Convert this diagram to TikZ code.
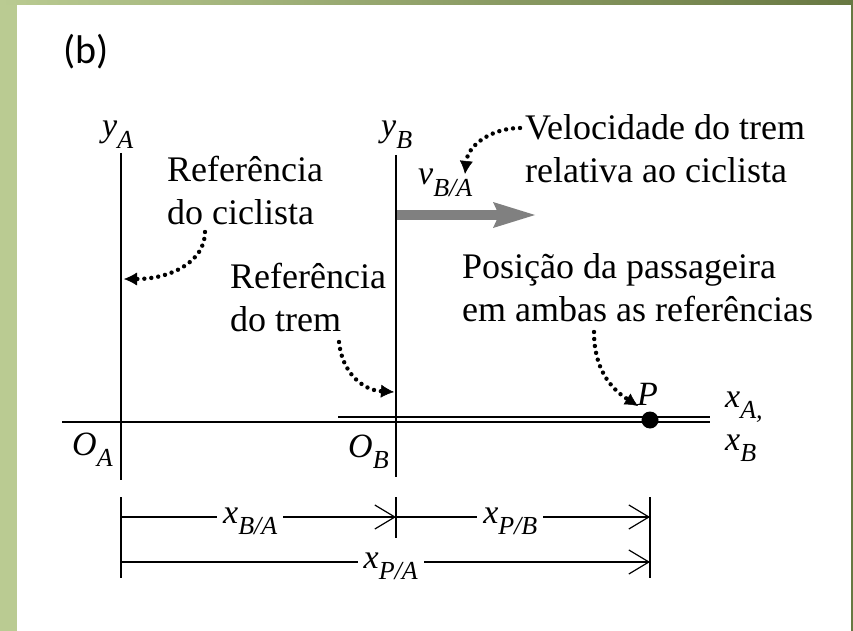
\documentclass[tikz,border=0pt]{standalone}
\usepackage{fontspec}
\setmainfont{Liberation Serif}
\newfontfamily\calibfont{Carlito}
\usetikzlibrary{arrows.meta}
\definecolor{bandlight}{RGB}{186,203,146}
\definecolor{banddark}{RGB}{104,120,66}
\definecolor{vecgray}{RGB}{128,128,128}
\newcommand{\axlbl}[2]{\textit{#1}\raisebox{-0.33em}{\fontsize{26}{26}\selectfont\textit{#2}}}
\tikzset{
  axis/.style={line width=1.4pt},
  dimline/.style={line width=1.2pt},
  dimarrow/.style={dimline,-{Straight Barb[length=20pt,width=24pt]}},
  pointer/.style={line width=4.4pt,dash pattern=on 0pt off 7pt,line cap=round,
    -{Latex[length=13pt,width=13pt,line width=0.5pt]}},
  caption/.style={font=\fontsize{36}{43}\selectfont,align=left,inner sep=0pt,anchor=north west},
  symlbl/.style={font=\fontsize{34}{34}\selectfont,inner sep=0pt,anchor=base west},
  dimlbl/.style={font=\fontsize{34}{34}\selectfont,fill=white,inner xsep=6pt,inner ysep=0pt,anchor=base,yshift=-6pt},
}
\begin{document}
\begin{tikzpicture}[x=1pt,y=-1pt,line cap=butt]
  \useasboundingbox (0,0) rectangle (853,631);
  \fill[white] (0,0) rectangle (853,631);
  \fill[bandlight] (0,0) rectangle (17,631);
  \shade[left color=bandlight,right color=banddark] (0,0) rectangle (853,5);
  \fill[banddark] (851,0) rectangle (853,631);

  \node[font=\calibfont\fontsize{40}{40}\selectfont,inner sep=0pt] (tag) at (86,52) {(b)};

  \coordinate (OA) at (121,422);
  \coordinate (OB) at (396,417);
  \coordinate (P) at (650,420);
  \draw[vecgray,line width=10pt,-{Stealth[length=42pt,width=26pt,inset=6pt,line width=0pt]}] (396,215) -- (535,215);
  \draw[axis] (62,422) -- (710,422);
  \draw[axis] (338,417) -- (710,417);
  \draw[axis] (121,153) -- (121,480);
  \draw[axis] (396,155) -- (396,477);
  \fill (P) circle (8.5);

  \node[symlbl] (yA) at (102,137) {\axlbl{y}{A}};
  \node[symlbl] (yB) at (381,137) {\axlbl{y}{B}};
  \node[symlbl] (oA) at (72,455) {\axlbl{O}{A}};
  \node[symlbl] (oB) at (348,457) {\axlbl{O}{B}};
  \node[symlbl] (xA) at (725,407) {\axlbl{x}{A,}};
  \node[symlbl] (xB) at (725,450) {\axlbl{x}{B}};
  \node[symlbl] (pP) at (637,405) {\textit{P}};
  \node[symlbl] (vBA) at (418,185) {\axlbl{v}{B/A}};

  \node[caption] (cyc) at (167,156) {Referência\\do ciclista};
  \node[caption] (trm) at (230,263) {Referência\\do trem};
  \node[caption] (vel) at (525,114) {Velocidade do trem\\relativa ao ciclista};
  \node[caption] (pos) at (462,253) {Posição da passageira\\em ambas as referências};

  \coordinate (cycS) at (205,232);
  \coordinate (cycE) at (124,279);
  \coordinate (velS) at (520,128);
  \coordinate (velE) at (465,174);
  \coordinate (trmS) at (339,342);
  \coordinate (trmE) at (394,392);
  \coordinate (posS) at (594,332);
  \coordinate (posE) at (638,406);
  \draw[pointer] (cycS) .. controls (205,262) and (170,279) .. (cycE);
  \draw[pointer] (velS) .. controls (492,128) and (468,145) .. (velE);
  \draw[pointer] (trmS) .. controls (342,372) and (362,390) .. (trmE);
  \draw[pointer] (posS) .. controls (594,368) and (610,388) .. (posE);

  \coordinate (dA) at (121,517);
  \coordinate (dB) at (396,517);
  \coordinate (dP) at (650,517);
  \coordinate (eA) at (121,562);
  \coordinate (eP) at (650,562);
  \draw[dimline] (121,497) -- (121,578);
  \draw[dimline] (396,497) -- (396,538);
  \draw[dimline] (650,497) -- (650,578);
  \draw[dimarrow] (dA) -- node[dimlbl,pos=0.47] {\axlbl{x}{B/A}} (dB);
  \draw[dimarrow] (dB) -- node[dimlbl,pos=0.45] {\axlbl{x}{P/B}} (dP);
  \draw[dimarrow] (eA) -- node[dimlbl,pos=0.51] {\axlbl{x}{P/A}} (eP);
\end{tikzpicture}
\end{document}
